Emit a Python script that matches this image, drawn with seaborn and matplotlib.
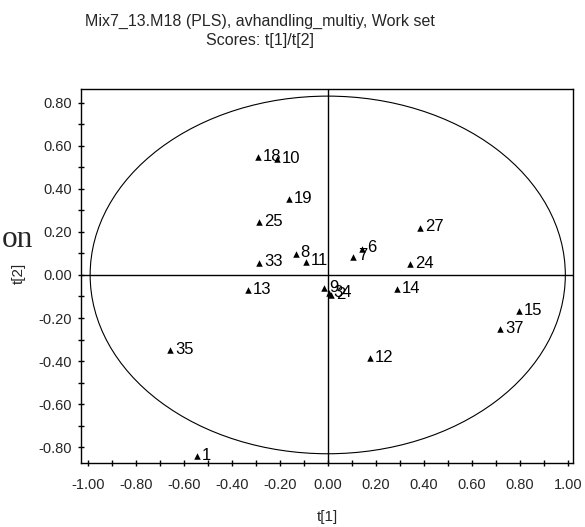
import matplotlib
matplotlib.use("Agg")
import matplotlib.pyplot as plt
import seaborn as sns
import pandas as pd
from matplotlib.patches import Ellipse
from matplotlib.ticker import MultipleLocator, FormatStrFormatter

# ---- data ----
labels = ["18", "10", "19", "25", "33", "13", "8", "11", "7", "6", "27", "24",
          "14", "15", "37", "12", "35", "1", "9", "34", "2"]
t1 = [-0.292, -0.212, -0.160, -0.285, -0.285, -0.331, -0.133, -0.092, 0.107, 0.143,
      0.385, 0.343, 0.290, 0.798, 0.718, 0.176, -0.657, -0.546, -0.015, 0.004, 0.014]
t2 = [0.546, 0.537, 0.353, 0.247, 0.057, -0.070, 0.099, 0.062, 0.085, 0.122,
      0.220, 0.050, -0.065, -0.167, -0.251, -0.387, -0.348, -0.840, -0.062, -0.085, -0.094]
title_lines = ["Mix7_13.M18 (PLS), avhandling_multiy, Work set", "Scores: t[1]/t[2]"]
ellipse_axes = (0.99, 0.83)

df = pd.DataFrame({"t1": t1, "t2": t2, "label": labels})

sns.set_style("white")
plt.rcParams["font.family"] = ["Liberation Sans", "DejaVu Sans"]

fig = plt.figure(figsize=(5.85, 5.27), dpi=100)
ax = fig.add_axes([0.1385, 0.1214, 0.841, 0.7097])

sns.scatterplot(data=df, x="t1", y="t2", marker="^", color="black", s=22,
                edgecolor="black", linewidth=0, ax=ax, zorder=3)
for lab, x, y in zip(labels, t1, t2):
    ax.annotate(lab, (x, y), xytext=(3.5, 0.5), textcoords="offset points",
                fontsize=12, va="center", ha="left", color="black")

ax.add_patch(Ellipse((0, 0), 2 * ellipse_axes[0], 2 * ellipse_axes[1], fill=False,
                     edgecolor="black", lw=0.8, zorder=2))
ax.axhline(0, color="black", lw=1, zorder=1)
ax.axvline(0, color="black", lw=1, zorder=1)

ax.set_xlim(-1.028, 1.022)
ax.set_ylim(-0.873, 0.863)
ax.xaxis.set_major_locator(MultipleLocator(0.2))
ax.xaxis.set_minor_locator(MultipleLocator(0.1))
ax.yaxis.set_major_locator(MultipleLocator(0.2))
ax.yaxis.set_minor_locator(MultipleLocator(0.1))
ax.xaxis.set_major_formatter(FormatStrFormatter("%.2f"))
ax.yaxis.set_major_formatter(FormatStrFormatter("%.2f"))
ax.tick_params(which="both", direction="inout", length=5, width=1, color="black",
               labelsize=10.5, bottom=True, left=True, top=False, right=False)
ax.tick_params(axis="x", pad=8)
ax.tick_params(axis="y", pad=4)
for sp in ax.spines.values():
    sp.set_color("black")
    sp.set_linewidth(1)

ax.set_xlabel("")
ax.set_ylabel("")
fig.text(327 / 585, 1 - 517 / 527, "t[1]", ha="center", va="center", fontsize=11)
fig.text(19 / 585, 1 - 273 / 527, "t[2]", ha="center", va="center", fontsize=11, rotation=90)
fig.text(260 / 585, 1 - 21 / 527, title_lines[0], ha="center", va="center", fontsize=11.5)
fig.text(260 / 585, 1 - 40 / 527, title_lines[1], ha="center", va="center", fontsize=11.5)
fig.text(2 / 585, 1 - 247 / 527, "on", ha="left", va="baseline", fontsize=22.5,
         family=["Liberation Serif", "DejaVu Serif"])

fig.savefig("out.png", dpi=100)
